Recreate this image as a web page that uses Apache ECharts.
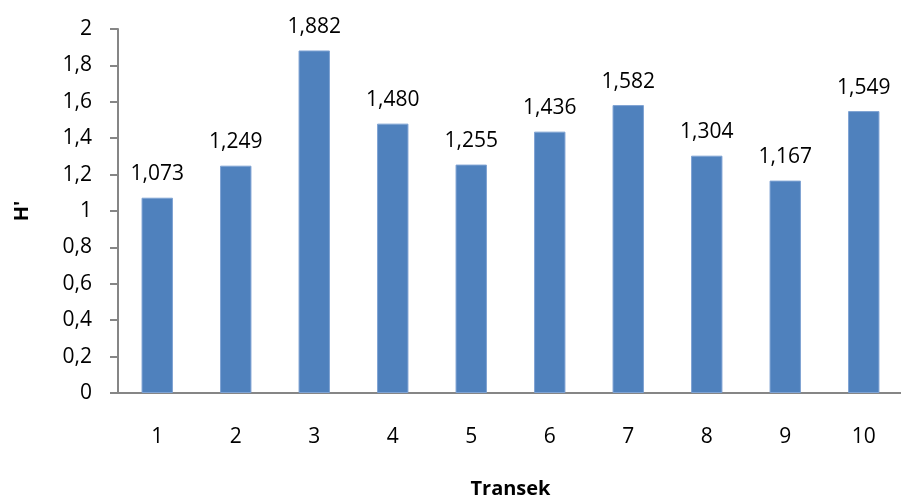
<!DOCTYPE html>
<html>
<head>
<meta charset="utf-8">
<script src="https://cdn.jsdelivr.net/npm/echarts@6/dist/echarts.min.js"></script>
<style>
  html, body { margin: 0; padding: 0; background: #fff; }
  #main { width: 901px; height: 499px; }
</style>
</head>
<body>
<div id="main"></div>
<script>
var transek = ['1', '2', '3', '4', '5', '6', '7', '8', '9', '10'];
var hValues = [1.073, 1.249, 1.882, 1.480, 1.255, 1.436, 1.582, 1.304, 1.167, 1.549];

function comma(v, digits) {
  return v.toFixed(digits).replace('.', ',');
}

var myChart = echarts.init(document.getElementById('main'));
var font = 'Open Sans';

var option = {
  animation: false,
  grid: { left: 118, right: -2, top: 29, bottom: 106, containLabel: false, outerBoundsMode: 'none' },
  xAxis: {
    type: 'category',
    data: transek,
    name: 'Transek',
    nameLocation: 'middle',
    nameGap: 86,
    nameTextStyle: { fontFamily: font, fontWeight: 'bold', fontSize: 20, color: '#000' },
    axisLine: { lineStyle: { color: '#868686', width: 2 } },
    axisTick: { length: 8, lineStyle: { color: '#868686', width: 2 } },
    axisLabel: { fontFamily: font, fontSize: 21, color: '#000', margin: 34 }
  },
  yAxis: {
    type: 'value',
    min: 0,
    max: 2,
    interval: 0.2,
    name: "H'",
    nameLocation: 'middle',
    nameGap: 86,
    nameTextStyle: { fontFamily: font, fontWeight: 'bold', fontSize: 20, color: '#000' },
    axisLine: { show: true, lineStyle: { color: '#868686', width: 2 } },
    axisTick: { show: true, length: 8, lineStyle: { color: '#868686', width: 2 } },
    splitLine: { show: false },
    axisLabel: {
      fontFamily: font, fontSize: 21, color: '#000', margin: 26,
      formatter: function (v) { return v === 0 || v === 1 || v === 2 ? String(v) : comma(v, 1); }
    }
  },
  series: [{
    type: 'bar',
    data: hValues,
    barWidth: '40%',
    itemStyle: { color: '#4F81BD', borderColor: '#7FA3D3', borderWidth: 1 },
    label: {
      show: true,
      position: 'top',
      distance: 13,
      fontFamily: font,
      fontSize: 21,
      color: '#000',
      formatter: function (p) { return comma(p.value, 3); }
    }
  }]
};

myChart.setOption(option);
</script>
</body>
</html>
